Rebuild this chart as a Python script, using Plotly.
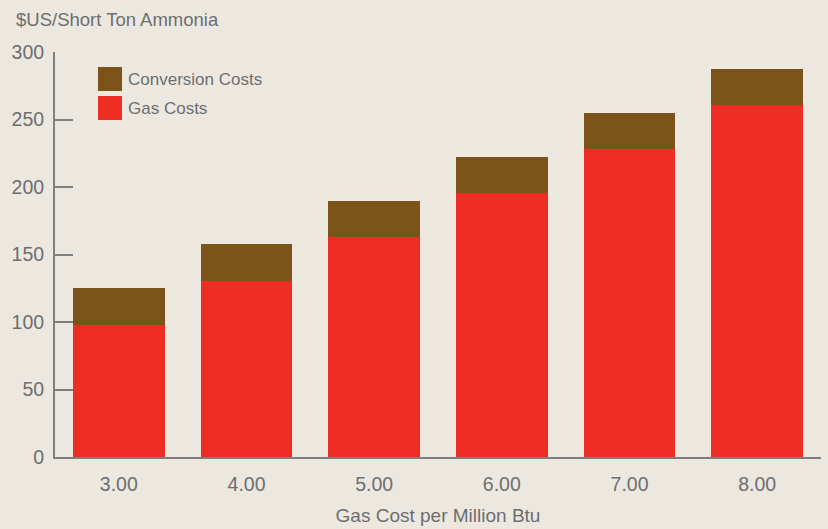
import plotly.graph_objects as go

categories = ["3.00", "4.00", "5.00", "6.00", "7.00", "8.00"]
gas_costs = [97.8, 130.4, 163.0, 195.6, 228.2, 260.8]
conversion_costs = [27.2, 27.2, 26.8, 26.8, 26.8, 26.8]
series_names = ["Conversion Costs", "Gas Costs"]
y_ticks = [0, 50, 100, 150, 200, 250, 300]

BG = "#ECE8DF"
RED = "#EE2E24"
BROWN = "#7C5419"
TXT = "#6D6E71"
AX = "#7F7F7F"
FONT = "Liberation Sans, Arial, sans-serif"

fig = go.Figure()
fig.add_trace(go.Bar(x=categories, y=gas_costs, name=series_names[1],
                     marker=dict(color=RED, line=dict(width=0)), showlegend=False))
fig.add_trace(go.Bar(x=categories, y=conversion_costs, name=series_names[0],
                     marker=dict(color=BROWN, line=dict(width=0)), showlegend=False))

# legend drawn as swatches + text
colors = [BROWN, RED]
for i, (nm, c) in enumerate(zip(series_names, colors)):
    y0 = 1 - (67 - 52 + i * 29) / 405
    fig.add_shape(type="rect", xref="paper", yref="paper",
                  x0=(98 - 55) / 766, x1=(122 - 55) / 766,
                  y0=y0 - 24 / 405, y1=y0, fillcolor=c, line=dict(width=0))
    fig.add_annotation(text=nm, xref="paper", yref="paper",
                       x=(126 - 55) / 766, y=y0 - 12 / 405, xanchor="left", yanchor="middle",
                       showarrow=False, font=dict(size=17, color=TXT, family=FONT))

fig.add_annotation(text="$US/Short Ton Ammonia", xref="paper", yref="paper",
                   x=-55 / 766 + 14 / 766, y=1 + 32 / 405, xanchor="left", yanchor="middle",
                   showarrow=False, font=dict(size=18.5, color=TXT, family=FONT))

fig.update_layout(
    barmode="stack",
    bargap=0.28,
    width=828, height=529,
    margin=dict(l=55, r=7, t=52, b=72),
    paper_bgcolor=BG, plot_bgcolor=BG,
    font=dict(family=FONT, color=TXT, size=19.5),
    xaxis=dict(showline=True, linecolor=AX, linewidth=2, ticks="",
               title=dict(text="Gas Cost per Million Btu", font=dict(size=19), standoff=14),
               tickfont=dict(size=19.5), showgrid=False, ticklabelstandoff=9),
    yaxis=dict(range=[0, 300], tickvals=y_ticks, showline=True, linecolor=AX, linewidth=2,
               ticks="inside", ticklen=18, tickcolor=AX, tickwidth=2, showgrid=False,
               zeroline=False, tickfont=dict(size=19.5), ticklabelstandoff=5),
)
fig.write_html("out.html")
